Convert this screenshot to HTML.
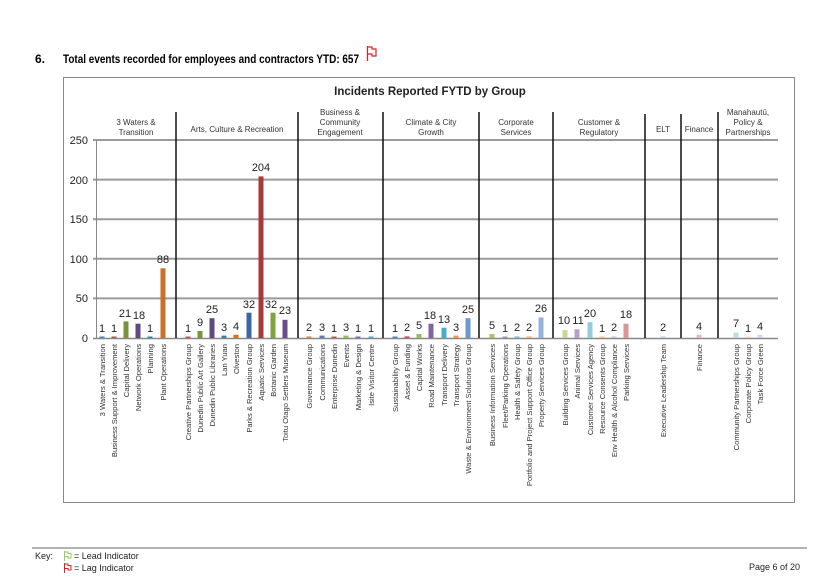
<!DOCTYPE html>
<html><head><meta charset="utf-8"><style>
html,body{margin:0;padding:0;background:#fff;}
svg{display:block;font-family:"Liberation Sans",sans-serif;}
</style></head><body>
<svg width="837" height="578" viewBox="0 0 837 578" xmlns="http://www.w3.org/2000/svg">
<text x="35" y="63" font-size="12" font-weight="bold" fill="#000">6.</text>
<text x="63" y="63" font-size="12" font-weight="bold" fill="#000" textLength="296" lengthAdjust="spacingAndGlyphs">Total events recorded for employees and contractors YTD:  657</text>
<g stroke="#e02020" stroke-width="1.2" fill="none"><line x1="367.5" y1="46" x2="367.5" y2="61"/><path d="M368 47h4v2h4v7h-4v-2h-4"/></g>
<rect x="63.5" y="77.5" width="731" height="425" fill="#fff" stroke="#888" stroke-width="1"/>
<text x="430" y="95" font-size="11.5" font-weight="bold" text-anchor="middle" fill="#222">Incidents Reported FYTD by Group</text>
<g stroke="#9a9a9a" stroke-width="2">
<line x1="93" y1="140" x2="778" y2="140"/><line x1="93" y1="179.6" x2="778" y2="179.6"/><line x1="93" y1="219.2" x2="778" y2="219.2"/><line x1="93" y1="258.8" x2="778" y2="258.8"/><line x1="93" y1="298.4" x2="778" y2="298.4"/>
</g>
<line x1="93" y1="338.5" x2="778" y2="338.5" stroke="#888" stroke-width="1.5"/>
<line x1="96.5" y1="140" x2="96.5" y2="338" stroke="#888" stroke-width="1"/>
<g stroke="#111" stroke-width="1.5">
<line x1="176" y1="112" x2="176" y2="338"/><line x1="298" y1="112" x2="298" y2="338"/><line x1="383" y1="112" x2="383" y2="338"/><line x1="479" y1="112" x2="479" y2="338"/><line x1="553" y1="112" x2="553" y2="338"/><line x1="645" y1="114" x2="645" y2="338"/><line x1="681" y1="114" x2="681" y2="338"/><line x1="718" y1="112" x2="718" y2="338"/>
</g>
<g font-size="11" fill="#222" text-anchor="end">
<text x="88" y="144">250</text><text x="88" y="184">200</text><text x="88" y="223">150</text><text x="88" y="263">100</text><text x="88" y="302">50</text><text x="88" y="342">0</text>
</g>
<g font-size="8" fill="#333" text-anchor="middle">
<text x="136" y="125">3 Waters &amp;</text><text x="136" y="135">Transition</text>
<text x="237" y="132">Arts, Culture &amp; Recreation</text>
<text x="340" y="115">Business &amp;</text><text x="340" y="125">Community</text><text x="340" y="135">Engagement</text>
<text x="431" y="125">Climate &amp; City</text><text x="431" y="135">Growth</text>
<text x="516" y="125">Corporate</text><text x="516" y="135">Services</text>
<text x="599" y="125">Customer &amp;</text><text x="599" y="135">Regulatory</text>
<text x="663" y="132">ELT</text><text x="699" y="132">Finance</text>
<text x="748" y="115">Manahautū,</text><text x="748" y="125">Policy &amp;</text><text x="748" y="135">Partnerships</text>
</g>
<g>
<rect x="99.5" y="336.5" width="5" height="1.5" fill="#4F81BD"/>
<rect x="111.5" y="336.5" width="5" height="1.5" fill="#C0504D"/>
<rect x="123.5" y="321.4" width="5" height="16.6" fill="#77933C"/>
<rect x="135.5" y="323.7" width="5" height="14.3" fill="#604A7B"/>
<rect x="147.5" y="336.5" width="5" height="1.5" fill="#31859C"/>
<rect x="160.5" y="268.3" width="5" height="69.7" fill="#C9712A"/>
<rect x="185.5" y="336.5" width="5" height="1.5" fill="#C0504D"/>
<rect x="197.5" y="330.9" width="5" height="7.1" fill="#77933C"/>
<rect x="209.5" y="318.2" width="5" height="19.8" fill="#604A7B"/>
<rect x="221.5" y="335.6" width="5" height="2.4" fill="#31859C"/>
<rect x="233.5" y="334.8" width="5" height="3.2" fill="#E46C0A"/>
<rect x="246.5" y="312.7" width="5" height="25.3" fill="#3A67A0"/>
<rect x="258.5" y="176.4" width="5" height="161.6" fill="#A83A36"/>
<rect x="270.5" y="312.7" width="5" height="25.3" fill="#7FA33E"/>
<rect x="282.5" y="319.8" width="5" height="18.2" fill="#6B4F8C"/>
<rect x="306.5" y="336.4" width="5" height="1.6" fill="#E08A4A"/>
<rect x="319.5" y="335.6" width="5" height="2.4" fill="#4F81BD"/>
<rect x="331.5" y="336.5" width="5" height="1.5" fill="#C0504D"/>
<rect x="343.5" y="335.6" width="5" height="2.4" fill="#9BBB59"/>
<rect x="355.5" y="336.5" width="5" height="1.5" fill="#8064A2"/>
<rect x="368.5" y="336.5" width="5" height="1.5" fill="#4BACC6"/>
<rect x="392.5" y="336.5" width="5" height="1.5" fill="#4F81BD"/>
<rect x="404.5" y="336.4" width="5" height="1.6" fill="#C0504D"/>
<rect x="416.5" y="334" width="5" height="4" fill="#9BBB59"/>
<rect x="428.5" y="323.7" width="5" height="14.3" fill="#8064A2"/>
<rect x="441.5" y="327.7" width="5" height="10.3" fill="#4BACC6"/>
<rect x="453.5" y="335.6" width="5" height="2.4" fill="#F79646"/>
<rect x="465.5" y="318.2" width="5" height="19.8" fill="#6F97CF"/>
<rect x="489.5" y="334" width="5" height="4" fill="#A8C46B"/>
<rect x="502.5" y="336.5" width="5" height="1.5" fill="#A593C0"/>
<rect x="514.5" y="336.4" width="5" height="1.6" fill="#7FC1D6"/>
<rect x="526.5" y="336.4" width="5" height="1.6" fill="#F9AE74"/>
<rect x="538.5" y="317.4" width="5" height="20.6" fill="#95B3D7"/>
<rect x="562.5" y="330.1" width="5" height="7.9" fill="#C3D69B"/>
<rect x="574.5" y="329.3" width="5" height="8.7" fill="#B3A2C7"/>
<rect x="587.5" y="322.2" width="5" height="15.8" fill="#93CDDD"/>
<rect x="599.5" y="336.5" width="5" height="1.5" fill="#FAC090"/>
<rect x="611.5" y="336.4" width="5" height="1.6" fill="#B9CDE5"/>
<rect x="623.5" y="323.7" width="5" height="14.3" fill="#D99694"/>
<rect x="660.5" y="336.4" width="5" height="1.6" fill="#B9CDE5"/>
<rect x="696.5" y="334.8" width="5" height="3.2" fill="#E6B9B8"/>
<rect x="733.5" y="332.5" width="5" height="5.5" fill="#B7DEE8"/>
<rect x="745.5" y="336.5" width="5" height="1.5" fill="#FCD5B4"/>
<rect x="757.5" y="334.8" width="5" height="3.2" fill="#C6D9F1"/>
</g>
<g font-size="11" fill="#222" text-anchor="middle">
<text x="102" y="332">1</text><text x="114" y="332">1</text><text x="125" y="317">21</text><text x="139" y="319">18</text><text x="150" y="332">1</text><text x="163" y="263">88</text>
<text x="188" y="332">1</text><text x="200" y="326">9</text><text x="212" y="313">25</text><text x="224" y="331">3</text><text x="236" y="330">4</text><text x="249" y="308">32</text><text x="261" y="171">204</text><text x="271" y="308">32</text><text x="285" y="314">23</text>
<text x="309" y="331">2</text><text x="322" y="331">3</text><text x="334" y="332">1</text><text x="346" y="331">3</text><text x="358" y="332">1</text><text x="371" y="332">1</text>
<text x="395" y="332">1</text><text x="407" y="331">2</text><text x="419" y="329">5</text><text x="430" y="319">18</text><text x="444" y="323">13</text><text x="456" y="331">3</text><text x="468" y="313">25</text>
<text x="492" y="329">5</text><text x="505" y="332">1</text><text x="517" y="331">2</text><text x="529" y="331">2</text><text x="541" y="312">26</text>
<text x="564" y="324">10</text><text x="578" y="324">11</text><text x="590" y="317">20</text><text x="602" y="332">1</text><text x="614" y="331">2</text><text x="626" y="318">18</text>
<text x="663" y="331">2</text><text x="699" y="330">4</text><text x="736" y="327">7</text><text x="748" y="332">1</text><text x="760" y="330">4</text>
</g>
<g font-size="7.6" fill="#333" text-anchor="end">
<text transform="translate(105,344) rotate(-90)">3 Waters &amp; Transition</text>
<text transform="translate(117,344) rotate(-90)">Business Support &amp; Improvement</text>
<text transform="translate(129,344) rotate(-90)">Capital Delivery</text>
<text transform="translate(141,344) rotate(-90)">Network Operations</text>
<text transform="translate(153,344) rotate(-90)">Planning</text>
<text transform="translate(166,344) rotate(-90)">Plant Operations</text>
<text transform="translate(191,344) rotate(-90)">Creative Partnerships Group</text>
<text transform="translate(203,344) rotate(-90)">Dunedin Public Art Gallery</text>
<text transform="translate(215,344) rotate(-90)">Dunedin Public Libraries</text>
<text transform="translate(227,344) rotate(-90)">Lan Yuan</text>
<text transform="translate(239,344) rotate(-90)">Olveston</text>
<text transform="translate(252,344) rotate(-90)">Parks &amp; Recreation Group</text>
<text transform="translate(264,344) rotate(-90)">Aquatic Services</text>
<text transform="translate(276,344) rotate(-90)">Botanic Garden</text>
<text transform="translate(288,344) rotate(-90)">Toitu Otago Settlers Museum</text>
<text transform="translate(312,344) rotate(-90)">Governance Group</text>
<text transform="translate(325,344) rotate(-90)">Communications</text>
<text transform="translate(337,344) rotate(-90)">Enterprise Dunedin</text>
<text transform="translate(349,344) rotate(-90)">Events</text>
<text transform="translate(361,344) rotate(-90)">Marketing &amp; Design</text>
<text transform="translate(374,344) rotate(-90)">Isite Visitor Centre</text>
<text transform="translate(398,344) rotate(-90)">Sustainability Group</text>
<text transform="translate(410,344) rotate(-90)">Asset &amp; Funding</text>
<text transform="translate(422,344) rotate(-90)">Capital Works</text>
<text transform="translate(434,344) rotate(-90)">Road Maintenance</text>
<text transform="translate(447,344) rotate(-90)">Transport Delivery</text>
<text transform="translate(459,344) rotate(-90)">Transport Strategy</text>
<text transform="translate(471,344) rotate(-90)">Waste &amp; Environment Solutions Group</text>
<text transform="translate(495,344) rotate(-90)">Business Information Services</text>
<text transform="translate(508,344) rotate(-90)">Fleet/Parking Operations</text>
<text transform="translate(520,344) rotate(-90)">Health &amp; Safety Group</text>
<text transform="translate(532,344) rotate(-90)">Portfolio and Project Support Office Group</text>
<text transform="translate(544,344) rotate(-90)">Property Services Group</text>
<text transform="translate(568,344) rotate(-90)">Building Services Group</text>
<text transform="translate(580,344) rotate(-90)">Animal Services</text>
<text transform="translate(593,344) rotate(-90)">Customer Services Agency</text>
<text transform="translate(605,344) rotate(-90)">Resource Consents Group</text>
<text transform="translate(617,344) rotate(-90)">Env Health &amp; Alcohol Compliance</text>
<text transform="translate(629,344) rotate(-90)">Parking Services</text>
<text transform="translate(666,344) rotate(-90)">Executive Leadership Team</text>
<text transform="translate(702,344) rotate(-90)">Finance</text>
<text transform="translate(739,344) rotate(-90)">Community Partnerships Group</text>
<text transform="translate(751,344) rotate(-90)">Corporate Policy Group</text>
<text transform="translate(763,344) rotate(-90)">Task Force Green</text>
</g>
<line x1="32" y1="548" x2="807" y2="548" stroke="#999" stroke-width="1.5"/>
<text x="35" y="559" font-size="9" fill="#222">Key:</text>
<g stroke="#8fce5a" stroke-width="1" fill="none"><line x1="64.5" y1="551" x2="64.5" y2="561"/><path d="M65 552h3v1.5h3v4.5h-3v-1.5h-3"/></g>
<text x="74" y="559" font-size="9" fill="#222">= Lead Indicator</text>
<g stroke="#e02020" stroke-width="1" fill="none"><line x1="64.5" y1="563" x2="64.5" y2="573"/><path d="M65 564h3v1.5h3v4.5h-3v-1.5h-3"/></g>
<text x="74" y="571" font-size="9" fill="#222">= Lag Indicator</text>
<text x="800" y="570" font-size="9" fill="#222" text-anchor="end">Page 6 of 20</text>
</svg>
</body></html>
